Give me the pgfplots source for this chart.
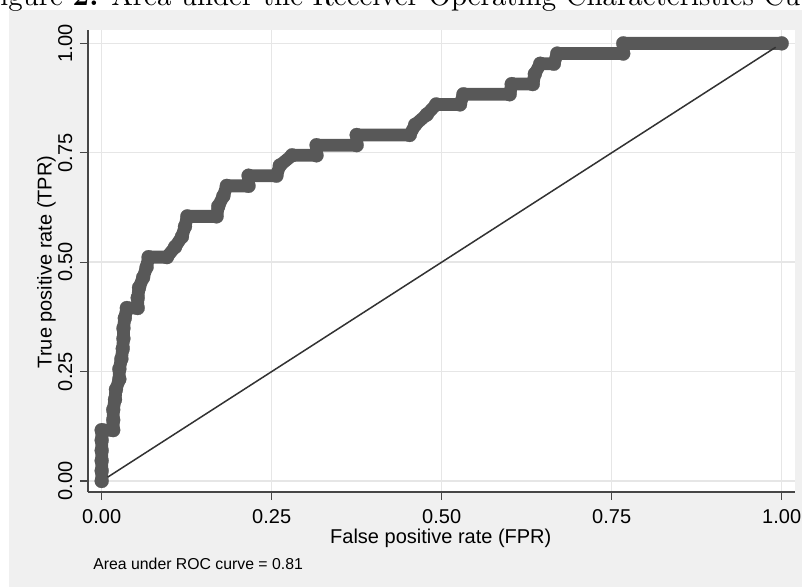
\documentclass[border=0pt]{standalone}
\usepackage{graphicx}
\usepackage{pgfplots}
\pgfplotsset{compat=1.18}
\usepackage{fontspec}
\setsansfont{Liberation Sans}
\renewcommand{\familydefault}{\sfdefault}
\definecolor{bgcol}{RGB}{240,240,240}
\definecolor{gridcol}{RGB}{230,230,230}
\definecolor{axiscol}{RGB}{70,70,70}
\definecolor{roccol}{RGB}{88,88,88}
\definecolor{diagcol}{RGB}{50,50,50}
\pgfplotstableread{
fpr tpr
0 0
0 0.0233
0 0.0465
0 0.0698
0 0.0930
0 0.1163
0.017 0.1163
0.017 0.1395
0.017 0.1628
0.0196 0.1860
0.021 0.2093
0.026 0.2326
0.026 0.2558
0.029 0.2791
0.031 0.3023
0.032 0.3256
0.032 0.3488
0.034 0.3721
0.037 0.3953
0.053 0.3953
0.053 0.4186
0.055 0.4419
0.061 0.4651
0.066 0.4884
0.069 0.5116
0.096 0.5116
0.108 0.5349
0.118 0.5581
0.1225 0.5814
0.126 0.6047
0.169 0.6047
0.1715 0.6279
0.179 0.6512
0.184 0.6744
0.216 0.6744
0.216 0.6977
0.257 0.6977
0.262 0.7209
0.280 0.7442
0.316 0.7442
0.316 0.7674
0.375 0.7674
0.375 0.7907
0.453 0.7907
0.461 0.8140
0.478 0.8372
0.492 0.8605
0.527 0.8605
0.532 0.8837
0.600 0.8837
0.603 0.9070
0.634 0.9070
0.637 0.9302
0.645 0.9535
0.665 0.9535
0.670 0.9767
0.767 0.9767
0.767 1.0
1.0 1.0
}\roctable
\begin{document}
\begin{tikzpicture}
\fill[bgcol] (4.5pt,0pt) rectangle (401pt,288.5pt);
\begin{scope}
\clip (0pt,0pt) rectangle (401pt,293.5pt);
\node[anchor=base west, inner sep=0pt] at (0pt,290.5pt) {\rmfamily\resizebox{400pt}{!}{igure \textbf{2.} Area under the Receiver Operating Characteristics Cu}};
\end{scope}
\begin{axis}[
  at={(44pt,47.5pt)}, anchor=south west,
  scale only axis, width=353.5pt, height=231pt,
  xmin=-0.0201, xmax=1.0196, ymin=-0.0251, ymax=1.0306,
  axis x line*=bottom, axis y line*=left,
  axis line style={draw=axiscol, line width=0.65pt},
  axis background/.style={fill=white},
  xtick={0,0.25,0.5,0.75,1}, ytick={0,0.25,0.5,0.75,1},
  xticklabels={0.00,0.25,0.50,0.75,1.00},
  yticklabels={0.00,0.25,0.50,0.75,1.00},
  tick align=outside, major tick length=4pt,
  tick style={draw=axiscol, line width=0.65pt},
  grid=major, major grid style={draw=gridcol, line width=0.7pt},
  tick label style={font=\fontsize{10}{12}\selectfont},
  xticklabel style={anchor=base},
  xticklabel shift=12pt,
  yticklabel style={rotate=90, anchor=base},
  yticklabel shift=3.9pt,
  label style={font=\fontsize{10}{12}\selectfont},
  xlabel={False positive rate (FPR)},
  xlabel style={at={(axis description cs:0.499,-0.111)}, anchor=base},
  ylabel={True positive rate (TPR)},
  ylabel style={at={(axis description cs:-0.0513,0.498)}, anchor=base},
]
\addplot[roccol, line width=6.4pt, line join=round, line cap=round, mark=*, mark size=3.5pt, mark options={fill=roccol, draw=roccol, line width=0.1pt}] table[x=fpr, y=tpr] {\roctable};
\addplot[diagcol, line width=0.75pt, no marks] coordinates {(0,0) (1,1)};
\end{axis}
\node[anchor=base west, inner sep=0pt, font=\fontsize{7.9}{9}\selectfont] at (46.5pt,8.85pt) {Area under ROC curve = 0.81};
\pgfresetboundingbox
\useasboundingbox (0pt,0pt) rectangle (401pt,293.5pt);
\end{tikzpicture}
\end{document}
